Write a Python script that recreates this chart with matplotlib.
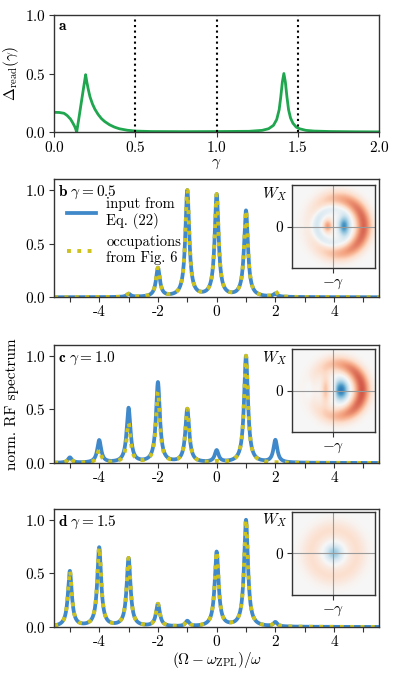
import numpy as np
import matplotlib
matplotlib.use("Agg")
import matplotlib.pyplot as plt

plt.rcParams['font.family'] = 'serif'
plt.rcParams['font.serif'] = ['cmr10']
plt.rcParams['mathtext.fontset'] = 'cm'
plt.rcParams['axes.unicode_minus'] = False
plt.rcParams['axes.formatter.use_mathtext'] = True
plt.rcParams['font.size'] = 11
plt.rcParams['xtick.major.pad'] = 2.5
plt.rcParams['ytick.major.pad'] = 2.5

# panel a: Delta_read(gamma)
gamma_a = [0.0, 0.03, 0.06, 0.08, 0.10, 0.115, 0.128, 0.138, 0.15, 0.165, 0.18, 0.193,
           0.20, 0.21, 0.22, 0.235, 0.25, 0.27, 0.29, 0.31, 0.34, 0.37, 0.40, 0.45, 0.5,
           0.6, 0.8, 1.0, 1.2, 1.28, 1.32, 1.35, 1.37, 1.385, 1.395, 1.405, 1.414,
           1.423, 1.433, 1.443, 1.455, 1.47, 1.49, 1.51, 1.55, 1.6, 1.7, 1.85, 2.0]
delta_a = [0.168, 0.167, 0.160, 0.140, 0.110, 0.075, 0.040, 0.0, 0.105, 0.24, 0.375, 0.49,
           0.43, 0.36, 0.30, 0.24, 0.195, 0.15, 0.115, 0.09, 0.062, 0.042, 0.028, 0.015, 0.008,
           0.004, 0.003, 0.004, 0.006, 0.014, 0.028, 0.057, 0.107, 0.19, 0.30, 0.43, 0.50,
           0.43, 0.30, 0.19, 0.12, 0.075, 0.042, 0.028, 0.014, 0.008, 0.004, 0.002, 0.001]
gamma_marks = [0.5, 1.0, 1.5]

# panels b-d: sideband peak heights (normalised) at (Omega - w_ZPL)/w = n
peak_pos = [-5, -4, -3, -2, -1, 0, 1, 2, 3, 4, 5]
b_input = [0, 0, 0.03, 0.27, 1.0, 0.96, 0.81, 0.03, 0, 0, 0]
b_occ = [0, 0, 0.03, 0.27, 1.0, 0.96, 0.81, 0.05, 0, 0, 0]
c_input = [0.05, 0.21, 0.51, 0.75, 0.50, 0.11, 1.0, 0.21, 0, 0, 0]
c_occ = [0.05, 0.12, 0.37, 0.66, 0.50, 0.01, 1.0, 0.0, 0, 0, 0]
d_input = [0.52, 0.74, 0.64, 0.21, 0.05, 0.70, 1.0, 0.04, 0, 0, 0]
d_occ = [0.52, 0.74, 0.64, 0.21, 0.05, 0.70, 1.0, 0.04, 0, 0, 0]
gammas = ['0.5', '1.0', '1.5']
letters = ['b', 'c', 'd']
linewidth_hwhm = 0.08

green = '#1fa64e'
blue = '#3f88c9'
yellow = '#cdc21c'


def spectrum(x, heights):
    s = np.zeros_like(x)
    for p, h in zip(peak_pos, heights):
        s += h * linewidth_hwhm**2 / ((x - p)**2 + linewidth_hwhm**2)
    return s / s.max()


# Wigner function insets, built from a few smooth pieces
g = np.linspace(-1, 1, 201)
X, Y = np.meshgrid(g, g)


def blob(x0, y0, sx, sy):
    return np.exp(-((X - x0) / sx)**2 / 2 - ((Y - y0) / sy)**2 / 2)


def ring(x0, r0, w, tilt):
    R = np.hypot(X - x0, Y)
    th = np.arctan2(Y, X - x0)
    return np.exp(-((R - r0) / w)**2 / 2) * (1 + tilt * np.cos(th)) / (1 + abs(tilt))


step = 1 / (1 + np.exp(-(X - 0.02) / 0.02))
W_b = (0.62 * blob(0.24, 0, 0.09, 0.16) - 0.42 * blob(-0.15, 0, 0.08, 0.11)
       + 0.2 * ring(0.0, 0.42, 0.08, -0.5) - 0.58 * ring(0.05, 0.66, 0.14, 0.75))
W_c = (0.72 * blob(0.17, 0, 0.12, 0.17) * step - 0.28 * blob(-0.2, 0, 0.07, 0.25) * (1 - step)
       + 0.08 * blob(-0.6, 0, 0.07, 0.2) - 0.62 * ring(0.05, 0.62, 0.14, 0.8))
W_d = 0.38 * blob(0, 0, 0.14, 0.14) - 0.16 * ring(0, 0.55, 0.17, 0)
wigners = [W_b, W_c, W_d]

fig = plt.figure(figsize=(3.99, 6.77), dpi=100)
W, H = 399, 677


def add_ax(left, top, right, bottom):
    return fig.add_axes([left / W, 1 - bottom / H, (right - left) / W, (bottom - top) / H])


def style(ax):
    for s in ax.spines.values():
        s.set_color('#333333')
        s.set_linewidth(1.0)
    ax.tick_params(direction='out', length=3.5, width=0.8, color='#333333')


# panel a
ax = add_ax(54.3, 15, 379, 132)
ax.plot(gamma_a, delta_a, color=green, lw=2)
for gm in gamma_marks:
    ax.axvline(gm, color='k', ls=':', lw=1.5)
ax.set_xlim(0, 2)
ax.set_ylim(0, 1)
ax.set_xticks([0, 0.5, 1.0, 1.5, 2.0])
ax.set_yticks([0, 0.5, 1.0])
ax.set_xlabel(r'$\gamma$', labelpad=1)
ax.set_ylabel(r'$\Delta_{\rm read}(\gamma)$', labelpad=3)
ax.text(0.012, 0.96, r'$\mathbf{a}$', transform=ax.transAxes, va='top', ha='left')
style(ax)

x = np.linspace(-5.6, 5.6, 3000)
inputs = [b_input, c_input, d_input]
occs = [b_occ, c_occ, d_occ]
tops = [179.3, 345, 509]
inset_tops = [185, 349, 511.7]
for i in range(3):
    ax = add_ax(54.3, tops[i], 379, tops[i] + 118)
    ax.plot(x, spectrum(x, inputs[i]), color=blue, lw=2.7,
            label='input from\nEq. (22)')
    ax.plot(x, spectrum(x, occs[i]), color=yellow, lw=2.8, ls=':',
            label='occupations\nfrom Fig. 6')
    ax.set_xlim(-5.53, 5.53)
    ax.set_ylim(0, 1.1)
    ax.set_xticks(peak_pos)
    ax.set_xticklabels(['' if p % 2 else str(p) for p in peak_pos])
    ax.set_yticks([0, 0.5, 1.0])
    ax.text(0.012, 0.965, r'$\mathbf{%s}\ \gamma = %s$' % (letters[i], gammas[i]),
            transform=ax.transAxes, va='top', ha='left')
    style(ax)
    if i == 0:
        ax.legend(loc='upper left', bbox_to_anchor=(0.039, 0.85), frameon=False,
                  fontsize=10.5, handlelength=2.0, handletextpad=0.7,
                  labelspacing=0.4, borderpad=0, borderaxespad=0)
    if i == 1:
        ax.set_ylabel('norm. RF spectrum', labelpad=4)
    if i == 2:
        ax.set_xlabel(r'$(\Omega - \omega_{\rm ZPL})/\omega$', labelpad=1)

    ins = add_ax(291.7, inset_tops[i], 375, inset_tops[i] + 83.5)
    ins.imshow(wigners[i], cmap='RdBu', vmin=-1, vmax=1, extent=(-1, 1, -1, 1),
               origin='lower', interpolation='bilinear')
    ins.axhline(0, color='0.6', lw=0.8)
    ins.axvline(0, color='0.6', lw=0.8)
    ins.set_xticks([0])
    ins.set_xticklabels([r'$-\gamma$'])
    ins.set_yticks([0])
    ins.set_yticklabels(['0'])
    ins.text(-0.05, 1.0, r'$W_X$', transform=ins.transAxes, ha='right', va='top')
    style(ins)

fig.savefig('out.png', dpi=100)
